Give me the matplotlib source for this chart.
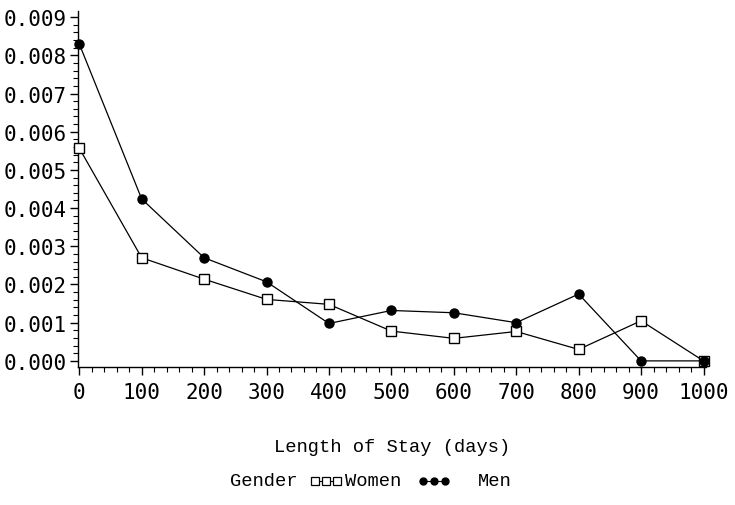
import matplotlib
matplotlib.use('Agg')
import matplotlib.pyplot as plt
from matplotlib.lines import Line2D
from matplotlib.ticker import MultipleLocator, FormatStrFormatter

# length of stay (days) and density by gender
days = [0, 100, 200, 300, 400, 500, 600, 700, 800, 900, 1000]
women = [0.00557, 0.00270, 0.00214, 0.00161, 0.00148, 0.00078, 0.00059, 0.00077, 0.00030, 0.00105, 0.0]
men = [0.00830, 0.00424, 0.00270, 0.00207, 0.00098, 0.00132, 0.00126, 0.00100, 0.00175, 0.0, 0.0]

x_ticks = list(range(0, 1001, 100))
groups = ['Women', 'Men']

W, H = 735, 506
fig = plt.figure(figsize=(W / 100, H / 100), dpi=100)
ax = fig.add_axes([78 / W, 138 / H, 628 / W, 356 / H])

ax.plot(days, women, color='black', lw=0.9, marker='s', ms=7,
        mfc='white', mec='black', mew=1.0, clip_on=False, zorder=3)
ax.plot(days, men, color='black', lw=0.9, marker='o', ms=6.5,
        mfc='black', mec='black', clip_on=False, zorder=4)

ax.set_xlim(-2, 1004)
ax.set_ylim(-0.00016, 0.00916)

for s in ['top', 'right']:
    ax.spines[s].set_visible(False)
ax.spines['left'].set_linewidth(1.0)
ax.spines['bottom'].set_linewidth(1.0)

ax.set_xticks(x_ticks)
ax.xaxis.set_minor_locator(MultipleLocator(20))
ax.yaxis.set_major_locator(MultipleLocator(0.001))
ax.yaxis.set_minor_locator(MultipleLocator(0.0002))
ax.yaxis.set_major_formatter(FormatStrFormatter('%.3f'))

mono = 'DejaVu Sans Mono'
ax.tick_params(axis='both', which='major', direction='out', length=6, width=1, color='black')
ax.tick_params(axis='both', which='minor', direction='out', length=3.5, width=0.8, color='black')
ax.tick_params(axis='x', which='major', pad=5)
ax.tick_params(axis='y', which='major', pad=2)
for lab in ax.get_xticklabels() + ax.get_yticklabels():
    lab.set_fontfamily(mono)
    lab.set_fontsize(15)

ax.set_xlabel('Length of Stay (days)', fontfamily='Liberation Mono', fontsize=13.5, labelpad=26)

# legend row, laid out by hand like the original
ly = 1 - 482 / H
lab_font = dict(fontfamily='Liberation Mono', fontsize=13.5, va='center', ha='left')
fig.text(230 / W, ly, 'Gender', **lab_font)
fig.add_artist(Line2D([315 / W, 326 / W, 337 / W], [ly] * 3, transform=fig.transFigure,
                      color='black', lw=0.8, marker='s', ms=5.5, mfc='white', mec='black', mew=0.9))
fig.text(345 / W, ly, groups[0], **lab_font)
fig.add_artist(Line2D([423 / W, 434 / W, 445 / W], [ly] * 3, transform=fig.transFigure,
                      color='black', lw=0.8, marker='o', ms=5, mfc='black', mec='black'))
fig.text(478 / W, ly, groups[1], **lab_font)

fig.savefig('out.png', dpi=100)
